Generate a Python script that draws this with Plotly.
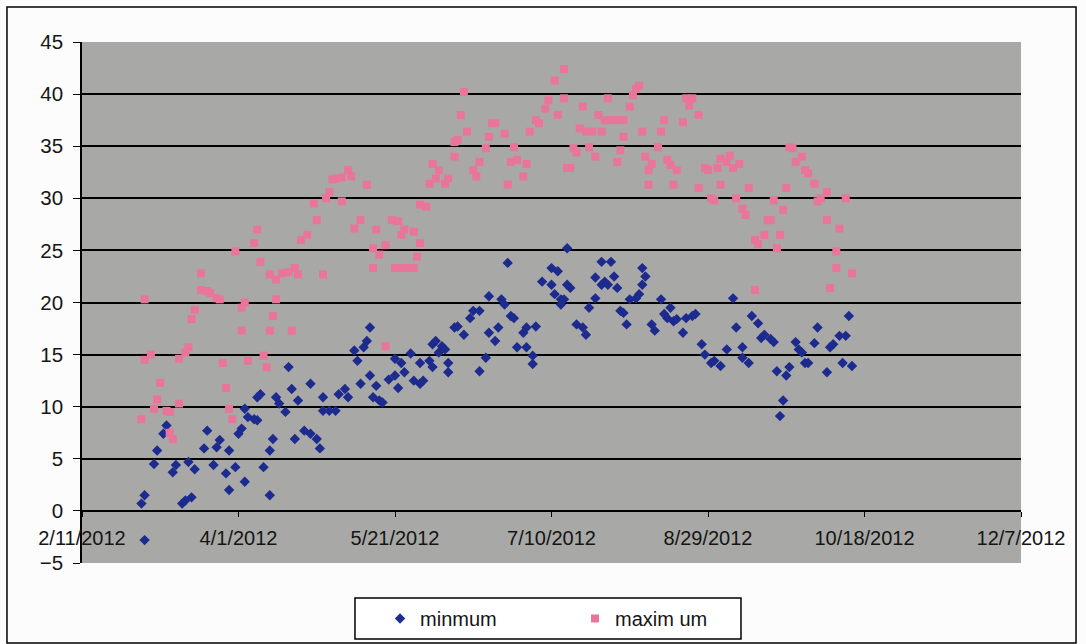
import pandas as pd
import plotly.graph_objects as go

BASE_DATE = pd.Timestamp("2012-02-11")

# day offsets from 2/11/2012 and daily minimum temperatures
min_day = [19, 20, 20, 23, 24, 26, 27, 29, 30, 32, 33, 34, 35, 36, 39, 40, 42, 43, 44, 46, 47, 47, 49, 50, 51, 52, 52, 53, 55, 56, 56, 57, 58, 60, 60, 61, 62,
           63, 65, 66, 67, 68, 69, 71, 73, 73, 75, 76, 77, 77, 79, 81, 82, 84, 85, 87, 88, 89, 90, 91, 92, 92, 93, 94, 95, 96, 98, 100, 100, 101, 102, 103, 105, 106, 108, 108, 109,
           111, 112, 112, 113, 114, 115, 116, 117, 117, 119, 120, 122, 124, 125, 127, 127, 129, 130, 130, 132, 133, 134, 135, 136, 137, 138, 139, 141, 142, 142, 144, 144, 145, 147, 150, 150, 151, 152, 153, 153, 155, 155,
           154, 156, 158, 160, 161, 162, 164, 164, 166, 166, 167, 168, 169, 170, 171, 172, 173, 174, 175, 177, 178, 179, 179, 180, 182, 183, 185, 186, 187, 188, 189, 190, 192, 193, 195, 196, 198, 199, 201,
           202, 204, 206, 208, 209, 211, 211, 213, 214, 216, 217, 218, 220, 221, 222, 223, 224, 225, 226, 228, 229, 230, 231, 232, 234, 235, 238, 239, 240, 242, 243, 244, 245, 246]
min_val = [0.7, -2.8, 1.5, 4.5, 5.8, 7.4, 8.2, 3.7, 4.4, 0.7, 1.0, 4.7, 1.3, 4.0, 6.0, 7.7, 4.4, 6.1, 6.8, 3.6, 2.0, 5.8, 4.2, 7.4, 7.9, 2.8, 9.8, 9.0, 8.8, 10.9, 8.7, 11.2, 4.2, 1.5, 5.8, 6.9, 10.9,
           10.3, 9.5, 13.8, 11.7, 6.9, 10.6, 7.7, 7.4, 12.2, 6.9, 6.0, 10.9, 9.6, 9.6, 9.6, 11.2, 11.7, 10.9, 15.4, 14.4, 12.2, 15.7, 16.3, 13.0, 17.6, 10.9, 12.0, 10.6, 10.4, 12.6, 13.0, 14.6, 11.8, 14.2, 13.3, 15.1, 12.5, 12.2, 14.2, 12.5,
           14.4, 16.0, 13.8, 16.3, 15.2, 15.8, 15.5, 13.3, 14.2, 17.6, 17.7, 16.9, 18.5, 19.2, 19.2, 13.4, 14.7, 20.6, 17.1, 16.3, 17.6, 20.3, 19.8, 23.8, 18.7, 18.5, 15.7, 17.1, 17.6, 15.7, 14.1, 14.9, 17.7, 22.0, 21.7, 23.3, 20.8, 23.0, 20.3, 19.8, 21.7, 25.2,
           20.3, 21.4, 17.9, 17.6, 16.9, 19.5, 22.4, 20.4, 21.7, 23.9, 22.0, 21.7, 23.9, 22.5, 21.4, 19.2, 19.0, 17.9, 20.3, 20.4, 20.8, 21.7, 23.3, 22.5, 17.9, 17.3, 20.3, 18.9, 18.5, 19.5, 18.2, 18.4, 17.1, 18.5, 18.7, 18.9, 16.0, 15.0, 14.2,
           14.4, 13.9, 15.5, 20.4, 17.6, 14.7, 15.7, 14.2, 18.7, 18.0, 16.6, 16.9, 16.5, 16.2, 13.4, 9.1, 10.6, 13.0, 13.8, 16.2, 15.5, 15.2, 14.2, 14.2, 16.1, 17.6, 13.3, 15.7, 16.0, 16.8, 14.2, 16.8, 18.7, 13.9]

# day offsets from 2/11/2012 and daily maximum temperatures
max_day = [19, 20, 20, 22, 23, 24, 25, 27, 28, 28, 29, 31, 31, 33, 34, 35, 36, 38, 38, 40, 41, 43, 44, 45, 46, 47, 48, 49, 51, 51, 52, 53, 55, 56, 57, 58, 59, 60, 60, 61, 62, 62,
           64, 66, 67, 68, 69, 70, 72, 74, 75, 77, 78, 79, 80, 81, 83, 83, 85, 86, 87, 89, 91, 93, 93, 94, 95, 97, 97, 99, 100, 101, 102, 102, 103, 104, 106, 106, 107, 108, 108, 110,
           111, 112, 113, 114, 116, 117, 119, 119, 120, 121, 122, 123, 125, 126, 127, 129, 130, 131, 132, 135, 136, 137, 138, 139, 141, 142, 143, 145, 146, 148, 149, 151, 152, 154, 154, 155,
           156, 157, 158, 159, 160, 161, 162, 163, 164, 165, 166, 167, 168, 169, 171, 171, 172, 173, 173, 175, 176, 177, 178, 179, 180, 181, 181, 182, 184, 185, 186, 187, 188, 189, 190, 192, 193, 194, 195, 197, 197, 199, 200, 201,
           202, 203, 204, 204, 206, 207, 208, 209, 210, 211, 212, 213, 215, 215, 216, 218, 219, 220, 221, 222, 223, 224, 225, 226, 227, 228, 230, 231, 232, 234, 235, 236, 238, 238, 239, 241, 241, 242, 244, 246]
max_val = [8.8, 20.3, 14.5, 15.0, 9.8, 10.7, 12.3, 9.6, 9.5, 7.5, 6.9, 10.3, 14.6, 15.2, 15.7, 18.4, 19.3, 21.2, 22.8, 21.1, 20.9, 20.4, 20.3, 14.2, 11.8, 9.8, 8.8, 24.9, 17.3, 19.5, 20.0, 14.4, 25.7, 27.0, 23.9, 14.9, 13.8, 17.3, 22.7, 18.7, 22.2, 20.3,
           22.8, 22.9, 17.3, 23.3, 22.7, 26.0, 26.5, 29.5, 27.9, 22.7, 30.0, 30.6, 31.8, 31.9, 29.7, 32.0, 32.7, 32.1, 27.1, 27.9, 31.3, 25.2, 23.3, 27.0, 24.6, 15.8, 25.5, 27.9, 23.3, 27.8, 23.3, 26.5, 27.0, 23.3, 26.8, 23.3, 24.4, 29.4, 25.7, 29.2,
           31.4, 33.3, 31.9, 32.7, 31.4, 31.9, 34.0, 35.4, 35.6, 38.0, 40.2, 36.4, 32.7, 32.1, 33.5, 34.8, 35.9, 37.2, 37.2, 36.2, 31.3, 33.5, 34.9, 33.7, 32.1, 33.3, 36.4, 37.5, 37.2, 38.6, 39.4, 41.3, 38.0, 42.4, 39.6, 32.9,
           32.9, 34.8, 34.4, 36.7, 38.8, 36.4, 34.9, 36.4, 34.0, 38.0, 36.4, 37.5, 39.6, 37.5, 33.5, 37.5, 34.6, 35.9, 37.5, 38.8, 39.9, 40.5, 40.8, 36.4, 34.0, 32.7, 31.3, 33.3, 34.9, 36.4, 37.5, 33.7, 33.2, 31.3, 32.7, 37.3, 39.6, 38.9, 39.6, 38.0, 31.0, 32.9, 32.7, 30.0,
           29.8, 32.9, 31.3, 33.8, 33.5, 34.1, 32.9, 30.0, 33.3, 29.0, 28.4, 31.0, 26.0, 21.2, 25.6, 26.5, 27.9, 27.9, 29.8, 25.2, 26.5, 28.9, 31.0, 34.9, 34.8, 33.5, 34.0, 32.7, 32.4, 31.4, 29.7, 30.0, 30.6, 27.9, 21.4, 23.3, 24.9, 27.1, 30.0, 22.8]

series_names = ["minmum", "maxim um"]
x_tick_dates = ["2012-02-11", "2012-04-01", "2012-05-21", "2012-07-10", "2012-08-29", "2012-10-18", "2012-12-07"]
y_ticks = [-5, 0, 5, 10, 15, 20, 25, 30, 35, 40, 45]

min_dates = BASE_DATE + pd.to_timedelta(min_day, unit="D")
max_dates = BASE_DATE + pd.to_timedelta(max_day, unit="D")

FONT = "Liberation Sans, Arial, sans-serif"
TXT = "#151515"

fig = go.Figure()
fig.add_trace(go.Scatter(x=min_dates, y=min_val, mode="markers", name=series_names[0],
                         marker=dict(symbol="diamond", size=8, color="#1d2b8f")))
fig.add_trace(go.Scatter(x=max_dates, y=max_val, mode="markers", name=series_names[1],
                         marker=dict(symbol="square", size=8, color="#e9759a")))

fig.update_layout(
    width=1086, height=644,
    margin=dict(l=82, r=65, t=42, b=81, autoexpand=False),
    paper_bgcolor="#fcfcfc",
    plot_bgcolor="#a8a9a6",
    font=dict(family=FONT, size=20, color=TXT),
    showlegend=True,
    legend=dict(orientation="h", x=0.3174, y=-0.1065, xanchor="left", yanchor="middle",
                bgcolor="rgba(0,0,0,0)", borderwidth=0,
                entrywidth=150, font=dict(size=20, family=FONT, color=TXT)),
    xaxis=dict(type="date", range=["2012-02-11", "2012-12-07"],
               tickvals=x_tick_dates, tickformat="%-m/%-d/%Y",
               anchor="free", position=0.1,
               showline=True, linecolor="#000000", linewidth=2,
               ticks="outside", ticklen=5, tickcolor="#000000",
               ticklabelstandoff=4,
               showgrid=False, zeroline=False,
               tickfont=dict(size=20, family=FONT, color=TXT)),
    yaxis=dict(range=[-5, 45], tickvals=y_ticks,
               showline=True, linecolor="#000000", linewidth=1.5,
               ticks="outside", ticklen=7, tickcolor="#000000",
               ticklabelstandoff=6,
               showgrid=True, gridcolor="#000000", gridwidth=1.6,
               zeroline=False,
               tickfont=dict(size=20.5, family=FONT, color=TXT)),
    shapes=[
        dict(type="rect", xref="paper", yref="paper",
             x0=-0.0799, x1=1.0586, y0=-0.1536, y1=1.0672,
             line=dict(color="#000000", width=1.5), fillcolor="rgba(0,0,0,0)", layer="below"),
        dict(type="rect", xref="paper", yref="paper",
             x0=0.2907, x1=0.7018, y0=-0.1459, y1=-0.0672,
             line=dict(color="#000000", width=1.5), fillcolor="#ffffff", layer="above"),
    ],
)

fig.write_html("out.html", post_script="document.body.style.margin='0';",
               config={"displayModeBar": False})
